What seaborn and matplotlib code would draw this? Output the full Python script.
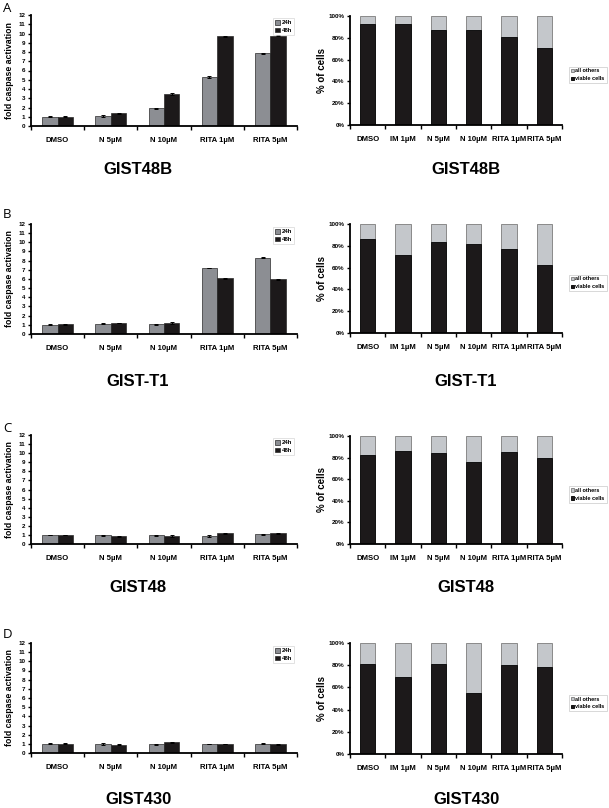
import numpy as np
import pandas as pd
import matplotlib
matplotlib.use("Agg")
import matplotlib.pyplot as plt
from matplotlib.ticker import PercentFormatter, FixedLocator
import seaborn as sns

# ---------------- data ----------------
lines = ["GIST48B", "GIST-T1", "GIST48", "GIST430"]
letters = ["A", "B", "C", "D"]

caspase_treat = ["DMSO", "N 5µM", "N 10µM", "RITA 1µM", "RITA 5µM"]
times = ["24h", "48h"]

fold_24h = {
    "GIST48B": [1.0, 1.1, 1.9, 5.3, 7.85],
    "GIST-T1": [1.0, 1.1, 1.05, 7.2, 8.3],
    "GIST48": [1.0, 0.95, 0.95, 0.9, 1.05],
    "GIST430": [1.0, 1.0, 0.95, 0.98, 1.02],
}
fold_48h = {
    "GIST48B": [1.0, 1.4, 3.45, 9.7, 9.75],
    "GIST-T1": [1.05, 1.2, 1.2, 6.1, 5.95],
    "GIST48": [1.0, 0.85, 0.85, 1.2, 1.2],
    "GIST430": [1.0, 0.92, 1.15, 0.96, 0.95],
}
err_24h = {
    "GIST48B": [0.04, 0.1, 0.1, 0.08, 0.08],
    "GIST-T1": [0.04, 0.06, 0.08, 0.05, 0.05],
    "GIST48": [0.04, 0.08, 0.08, 0.1, 0.1],
    "GIST430": [0.05, 0.08, 0.08, 0.03, 0.04],
}
err_48h = {
    "GIST48B": [0.03, 0.05, 0.12, 0.04, 0.05],
    "GIST-T1": [0.05, 0.05, 0.08, 0.05, 0.05],
    "GIST48": [0.04, 0.04, 0.12, 0.05, 0.05],
    "GIST430": [0.05, 0.04, 0.08, 0.03, 0.03],
}

viab_treat = ["DMSO", "IM 1µM", "N 5µM", "N 10µM", "RITA 1µM", "RITA 5µM"]
viable = {
    "GIST48B": [93, 93, 87, 87, 81, 70.5],
    "GIST-T1": [86, 71.5, 83.5, 82, 77, 62],
    "GIST48": [82, 86.5, 84.5, 75.5, 85.5, 80],
    "GIST430": [81, 69, 81, 55, 80, 78],
}
others = {k: [100 - v for v in vals] for k, vals in viable.items()}

# ---------------- style ----------------
sns.set_style("ticks")
plt.rcParams["font.family"] = ["Liberation Sans", "DejaVu Sans"]
plt.rcParams["font.weight"] = "bold"
for key in ["text.color", "axes.labelcolor", "xtick.color", "ytick.color"]:
    plt.rcParams[key] = "black"

gray = "#8b8e94"
black = "#1c191a"
light = "#c3c7cc"

W, H = 609, 808
fig = plt.figure(figsize=(W / 100, H / 100), dpi=100)


def box(x0, y0, x1, y1):
    return [x0 / W, 1 - y1 / H, (x1 - x0) / W, (y1 - y0) / H]


left_px = [(15, 126), (224, 334), (435, 544), (643, 753)]
right_px = [(16, 125), (224, 333), (436, 544), (643, 754)]
title_y = [170, 382, 588, 800]
letter_y = [9, 215, 428, 635]


def style_axis(ax, n):
    for s in ["top", "right"]:
        ax.spines[s].set_visible(False)
    for s in ["left", "bottom"]:
        ax.spines[s].set_linewidth(1.3)
        ax.spines[s].set_color("black")
    ax.set_xlim(-0.5, n - 0.5)
    ax.xaxis.set_minor_locator(FixedLocator(np.arange(-0.5, n, 1.0)))
    ax.tick_params(axis="x", which="major", length=0, pad=8, labelsize=5.6)
    ax.tick_params(axis="x", which="minor", length=3, width=1, direction="out")
    ax.tick_params(axis="y", length=2.5, width=1, labelsize=4.5, pad=1.5)
    for t in ax.get_xticklabels() + ax.get_yticklabels():
        t.set_fontweight("bold")


for i, line in enumerate(lines):
    # ---------- caspase activation ----------
    y0, y1 = left_px[i]
    ax = fig.add_axes(box(31, y0, 297, y1))
    df = pd.DataFrame({
        "treatment": caspase_treat * 2,
        "time": ["24h"] * 5 + ["48h"] * 5,
        "fold": fold_24h[line] + fold_48h[line],
    })
    sns.barplot(data=df, x="treatment", y="fold", hue="time",
                order=caspase_treat, hue_order=times,
                palette=[gray, black], width=0.58, errorbar=None,
                edgecolor="#2a2a2a", linewidth=0.5, ax=ax)
    for cont, errs in zip(ax.containers, [err_24h[line], err_48h[line]]):
        xs = [b.get_x() + b.get_width() / 2 for b in cont]
        hs = [b.get_height() for b in cont]
        ax.errorbar(xs, hs, yerr=errs, fmt="none", ecolor="black",
                    elinewidth=0.7, capsize=1.5, capthick=0.7)
    ax.set_ylim(0, 12)
    ax.set_yticks(range(0, 13))
    ax.set_xlabel("")
    ax.set_ylabel("fold caspase activation", fontsize=6.3,
                  fontweight="bold", labelpad=3)
    style_axis(ax, 5)
    leg = ax.legend(loc="upper right", bbox_to_anchor=(1.0, 1.0),
                    fontsize=4.3, handlelength=0.8, handleheight=0.8,
                    handletextpad=0.3, labelspacing=0.4, borderpad=0.35,
                    frameon=True, fancybox=False)
    leg.get_frame().set_edgecolor("#cccccc")
    leg.get_frame().set_linewidth(0.5)
    for t in leg.get_texts():
        t.set_fontweight("bold")

    fig.text(138 / W, 1 - title_y[i] / H, line, ha="center", va="center",
             fontsize=12, fontweight="bold")
    fig.text(3 / W, 1 - letter_y[i] / H, letters[i], ha="left", va="center",
             fontsize=9.5, fontweight="normal", family=["Open Sans", "DejaVu Sans"])

    # ---------- viability ----------
    y0, y1 = right_px[i]
    ax2 = fig.add_axes(box(350, y0, 562, y1))
    dv = pd.DataFrame({
        "treatment": viab_treat,
        "viable": viable[line],
        "total": [v + o for v, o in zip(viable[line], others[line])],
    })
    sns.barplot(data=dv, x="treatment", y="total", order=viab_treat,
                color=light, width=0.43, edgecolor="#8a8a8a", linewidth=0.7,
                label="all others", ax=ax2)
    sns.barplot(data=dv, x="treatment", y="viable", order=viab_treat,
                color=black, width=0.43, edgecolor="#111111", linewidth=0.7,
                label="viable cells", ax=ax2)
    ax2.set_ylim(0, 100)
    ax2.set_yticks(range(0, 101, 20))
    ax2.yaxis.set_major_formatter(PercentFormatter(decimals=0))
    ax2.set_xlabel("")
    ax2.set_ylabel("% of cells", fontsize=7, fontweight="bold", labelpad=1)
    style_axis(ax2, 6)
    leg2 = ax2.legend(loc="center left", bbox_to_anchor=(1.02, 0.46),
                      fontsize=4.0, handlelength=0.6, handleheight=0.6,
                      handletextpad=0.2, labelspacing=0.5, borderpad=0.35,
                      frameon=True, fancybox=False)
    leg2.get_frame().set_edgecolor("#bbbbbb")
    leg2.get_frame().set_linewidth(0.5)
    for t in leg2.get_texts():
        t.set_fontweight("bold")

    fig.text(466 / W, 1 - title_y[i] / H, line, ha="center", va="center",
             fontsize=12, fontweight="bold")

fig.savefig("out.png", dpi=100, facecolor="white")
